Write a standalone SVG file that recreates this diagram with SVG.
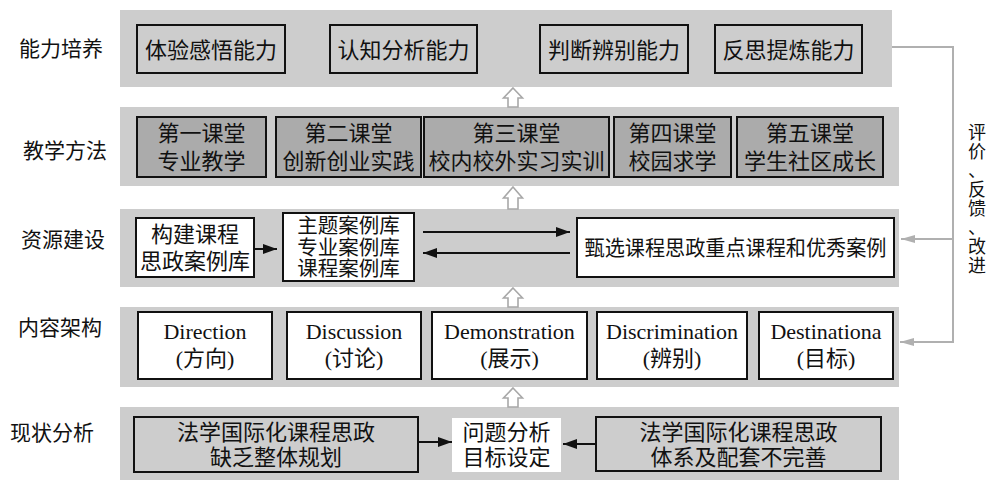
<svg xmlns="http://www.w3.org/2000/svg" width="991" height="480" viewBox="0 0 991 480">
<style>
text{font-family:"Liberation Serif","Noto Sans CJK SC",serif;font-size:22px;fill:#111;text-anchor:middle}
.band{fill:#cdcdcd}
.box{fill:#cdcdcd;stroke:#111;stroke-width:2}
.dbox{fill:#ababab;stroke:#111;stroke-width:2}
.wbox{fill:#fff;stroke:#111;stroke-width:2}
.lbl{font-size:21px}
.sm{font-size:20.5px}
.mid{font-size:21px}
.up{fill:#fff;stroke:#a8a8a8;stroke-width:1.6}
.ln{stroke:#111;stroke-width:2;fill:none}
.fb{stroke:#b0b0b0;stroke-width:2;fill:none}
.vt{font-size:18px}
</style>
<defs>
<marker id="ah" markerUnits="userSpaceOnUse" viewBox="0 0 14 10" refX="14" refY="5" markerWidth="14" markerHeight="10" orient="auto"><path d="M0,0 L14,5 L0,10 z" fill="#111"/></marker>
<marker id="gh" markerUnits="userSpaceOnUse" viewBox="0 0 14 10" refX="14" refY="5" markerWidth="14" markerHeight="10" orient="auto"><path d="M0,1 L14,5 L0,9 z" fill="#b0b0b0"/></marker>
</defs>

<g id="bands">
<rect class="band" x="120" y="10" width="772" height="77"/>
<rect class="band" x="120" y="107" width="779" height="79"/>
<rect class="band" x="120" y="209" width="779" height="78"/>
<rect class="band" x="120" y="307" width="779" height="80"/>
<rect class="band" x="120" y="407" width="779" height="73"/>
</g>

<g id="labels">
<text class="lbl" x="61" y="56">能力培养</text>
<text class="lbl" x="65" y="158">教学方法</text>
<text class="lbl" x="63" y="247">资源建设</text>
<text class="lbl" x="60" y="335">内容架构</text>
<text class="lbl" x="52" y="440">现状分析</text>
</g>

<g id="connectors">
<polygon class="up" points="513,88 522.5,98 518,98 518,107 508,107 508,98 503.5,98"/>
<polygon class="up" points="513,187 522.5,198 518,198 518,209 508,209 508,198 503.5,198"/>
<polygon class="up" points="513,288 522.5,298 518,298 518,307 508,307 508,298 503.5,298"/>
<polygon class="up" points="513,388 522.5,398 518,398 518,407 508,407 508,398 503.5,398"/>
<path class="ln" d="M254 249 H277" marker-end="url(#ah)"/>
<path class="ln" d="M423 232 H570" marker-end="url(#ah)"/>
<path class="ln" d="M570 253 H423" marker-end="url(#ah)"/>
<path class="ln" d="M418 442 H452" marker-end="url(#ah)"/>
<path class="ln" d="M596 444 H563" marker-end="url(#ah)"/>
<path class="fb" d="M892 47 H953 V342 H900" marker-end="url(#gh)"/>
<path class="fb" d="M953 239 H901" marker-end="url(#gh)"/>
</g>

<g id="n-tiyan"><rect class="box" x="137" y="25" width="148" height="48"/><text x="211" y="58">体验感悟能力</text></g>
<g id="n-renzhi"><rect class="box" x="330" y="25" width="147" height="48"/><text x="403.5" y="58">认知分析能力</text></g>
<g id="n-panduan"><rect class="box" x="540" y="25" width="148" height="48"/><text x="614" y="58">判断辨别能力</text></g>
<g id="n-fansi"><rect class="box" x="715" y="25" width="147" height="48"/><text x="788.5" y="58">反思提炼能力</text></g>

<g id="n-ketang1"><rect class="dbox" x="137" y="117" width="129" height="60"/><text x="201.5" y="141">第一课堂</text><text x="201.5" y="169">专业教学</text></g>
<g id="n-ketang2"><rect class="dbox" x="276" y="117" width="145" height="60"/><text x="348.5" y="141">第二课堂</text><text x="348.5" y="169">创新创业实践</text></g>
<g id="n-ketang3"><rect class="dbox" x="424" y="117" width="185" height="60"/><text x="516.5" y="141">第三课堂</text><text x="516.5" y="169">校内校外实习实训</text></g>
<g id="n-ketang4"><rect class="dbox" x="614" y="117" width="117" height="60"/><text x="672.5" y="141">第四课堂</text><text x="672.5" y="169">校园求学</text></g>
<g id="n-ketang5"><rect class="dbox" x="737" y="117" width="146" height="60"/><text x="810" y="141">第五课堂</text><text x="810" y="169">学生社区成长</text></g>

<g id="n-goujian"><rect class="wbox" x="136" y="218" width="118" height="59"/><text x="195" y="242">构建课程</text><text x="195" y="269">思政案例库</text></g>
<g id="n-anliku"><rect class="wbox" x="283" y="213" width="131" height="68"/><text class="sm" x="348.5" y="233">主题案例库</text><text class="sm" x="348.5" y="254.5">专业案例库</text><text class="sm" x="348.5" y="276">课程案例库</text></g>
<g id="n-zhenxuan"><rect class="wbox" x="577" y="218" width="317" height="59"/><text class="mid" x="735.5" y="255" textLength="302" lengthAdjust="spacingAndGlyphs">甄选课程思政重点课程和优秀案例</text></g>

<g id="n-direction"><rect class="wbox" x="138" y="312" width="134" height="67"/><text x="205" y="339">Direction</text><text x="205" y="366">(方向)</text></g>
<g id="n-discussion"><rect class="wbox" x="287" y="312" width="134" height="67"/><text x="354" y="339">Discussion</text><text x="354" y="366">(讨论)</text></g>
<g id="n-demonstration"><rect class="wbox" x="432" y="312" width="155" height="67"/><text x="509.5" y="339">Demonstration</text><text x="509.5" y="366">(展示)</text></g>
<g id="n-discrimination"><rect class="wbox" x="597" y="312" width="150" height="67"/><text x="672" y="339">Discrimination</text><text x="672" y="366">(辨别)</text></g>
<g id="n-destination"><rect class="wbox" x="759" y="312" width="134" height="67"/><text x="826" y="339">Destinationa</text><text x="826" y="366">(目标)</text></g>

<g id="n-quefa"><rect class="box" x="134" y="417" width="284" height="55"/><text x="276" y="440">法学国际化课程思政</text><text x="276" y="465">缺乏整体规划</text></g>
<g id="n-wenti"><rect x="452" y="418" width="109" height="54" fill="#fff"/><text x="506.5" y="440">问题分析</text><text x="506.5" y="465">目标设定</text></g>
<g id="n-tixi"><rect class="box" x="596" y="417" width="285" height="54"/><text x="738.5" y="440">法学国际化课程思政</text><text x="738.5" y="465">体系及配套不完善</text></g>

<g id="feedback-label">
<text class="vt" x="977" y="139">评</text>
<text class="vt" x="977" y="158">价</text>
<text class="vt" x="977" y="177">、</text>
<text class="vt" x="977" y="196">反</text>
<text class="vt" x="977" y="215">馈</text>
<text class="vt" x="977" y="234">、</text>
<text class="vt" x="977" y="253">改</text>
<text class="vt" x="977" y="272">进</text>
</g>
</svg>
